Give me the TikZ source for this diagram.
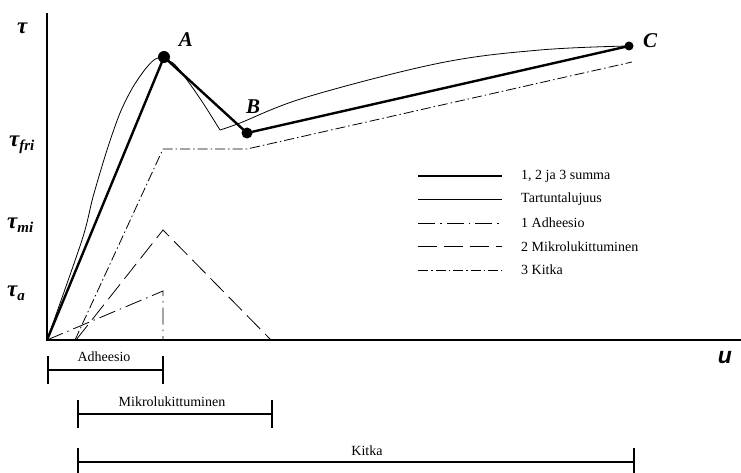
\documentclass[tikz,border=0pt]{standalone}
\usepackage{fontspec}
\setmainfont{Liberation Serif}
\newfontfamily\uakselifont{Liberation Sans}
\usetikzlibrary{arrows.meta}

\begin{document}
\begin{tikzpicture}[
        x=1pt, y=-1pt,
        akseli/.style={line width=2.6pt},
        summa/.style={line width=2.4pt, line join=round},
        tartunta/.style={line width=0.8pt},
        adh/.style={line width=0.8pt, dash pattern=on 17pt off 5pt on 1.5pt off 5pt},
        mikro/.style={line width=0.8pt, dash pattern=on 19pt off 7pt},
        kitka/.style={line width=0.8pt, dash pattern=on 10pt off 3pt on 1.5pt off 3pt},
        piste/.style={circle, fill=black, inner sep=0pt, minimum size=12pt},
        kirjain/.style={font=\fontsize{21}{21}\selectfont\bfseries\itshape, inner sep=0pt},
        taso/.style={font=\fontsize{23}{23}\selectfont\bfseries\itshape, anchor=west, inner sep=0pt},
        teksti/.style={font=\fontsize{14}{16}\selectfont, inner sep=1pt},
        vali/.style={line width=2.4pt, {Bar[width=28pt]}-{Bar[width=28pt]}}
    ]
        \useasboundingbox (0,0) rectangle (741,473);

        % Akselit
        \coordinate (O) at (47,340);
        \coordinate (ytop) at (47,13);
        \coordinate (xend) at (741,340);
        \draw[akseli] (ytop) -- (O) -- (xend);
        \node[taso] (tau) at (17,28) {τ};
        \node[taso] (taufri) at (9,145) {τ\raisebox{-0.35ex}{\fontsize{15}{15}\selectfont fri}};
        \node[taso] (taumi) at (7,225) {τ\raisebox{-0.35ex}{\fontsize{15}{15}\selectfont mi}};
        \node[taso] (taua) at (7,293) {τ\raisebox{-0.35ex}{\fontsize{15}{15}\selectfont a}};
        \node[font=\uakselifont\fontsize{23}{23}\selectfont\bfseries\itshape, inner sep=0pt] (u) at (725,358) {u};

        % Osakomponentit
        \coordinate (adhtop) at (163,291);
        \coordinate (adhbot) at (163,340);
        \draw[adh] (O) -- (adhtop) -- (adhbot);
        \coordinate (mikroL) at (76,340);
        \coordinate (mikrotop) at (163,230);
        \coordinate (mikroR) at (271,340);
        \draw[mikro] (mikroL) -- (mikrotop) -- (mikroR);
        \coordinate (kitkaL) at (75,340);
        \coordinate (kitka1) at (163,149);
        \coordinate (kitka2) at (247,149);
        \coordinate (kitkaR) at (632,62);
        \draw[kitka] (kitkaL) -- (kitka1) -- (kitka2) -- (kitkaR);

        % Tartuntalujuus
        \draw[tartunta] plot[smooth, tension=0.5] coordinates {(47,340) (82,240) (93,197) (107,150) (120,113) (133,87) (147,67) (158,58) (173,63) (187,80) (203,103) (220,130)};
        \draw[tartunta] plot[smooth, tension=0.6] coordinates {(220,130) (240,123) (307,97) (440,63) (540,50) (628,46)};

        % Summakäyrä
        \node[piste] (A) at (164,57) {};
        \node[piste, minimum size=11pt] (B) at (247,133) {};
        \node[piste, minimum size=9pt] (C) at (629,46) {};
        \draw[summa] (O) -- (A.center) -- (B.center) -- (C.center);
        \node[kirjain] (Alab) at (186,40) {A};
        \node[kirjain] (Blab) at (253,107) {B};
        \node[kirjain] (Clab) at (650,41) {C};

        % Selite
        \foreach \tyyli/\nimi [count=\i] in {summa/{1, 2 ja 3 summa}, tartunta/Tartuntalujuus, adh/1 Adheesio, mikro/2 Mikrolukittuminen, kitka/3 Kitka} {
            \coordinate (legL\i) at (418,{176+(\i-1)*23.5});
            \coordinate (legR\i) at (502,{176+(\i-1)*23.5});
            \draw[\tyyli] (legL\i) -- (legR\i);
            \node[teksti, anchor=west] (leg\i) at (520,{176+(\i-1)*23.5}) {\nimi};
        }

        % Vaiheiden välit
        \coordinate (adhA) at (47,370);
        \coordinate (adhB) at (164,370);
        \draw[vali] (adhA) -- (adhB);
        \node[teksti] (adhlab) at (104,357) {Adheesio};
        \coordinate (mikA) at (77,414);
        \coordinate (mikB) at (273,414);
        \draw[vali] (mikA) -- (mikB);
        \node[teksti] (miklab) at (172,402) {Mikrolukittuminen};
        \coordinate (kitA) at (77,462);
        \coordinate (kitB) at (635,462);
        \draw[vali] (kitA) -- (kitB);
        \node[teksti] (kitlab) at (367,451) {Kitka};
    \end{tikzpicture}
\end{document}
